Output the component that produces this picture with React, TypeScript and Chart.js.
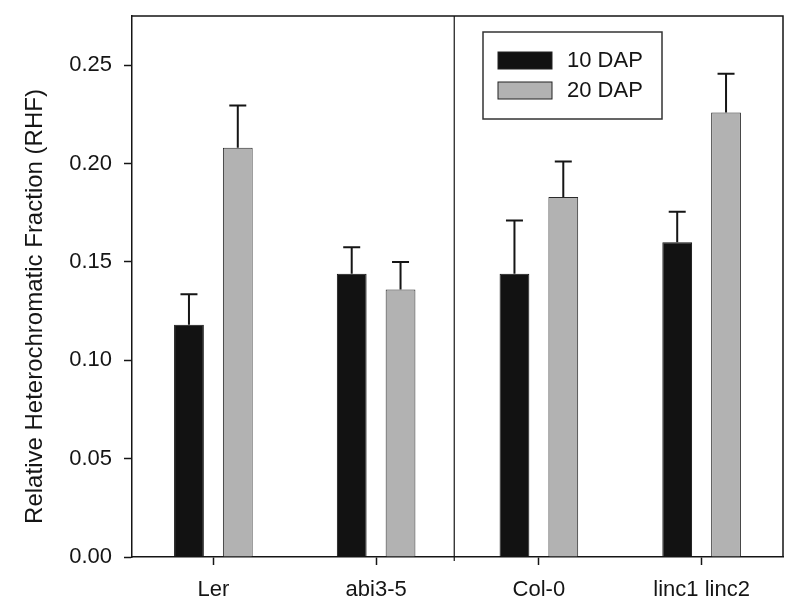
import React, { useEffect, useRef } from "react";
import { Chart, registerables } from "chart.js";

Chart.register(...registerables);

const categories = ["Ler", "abi3-5", "Col-0", "linc1 linc2"];
const seriesLabels = ["10 DAP", "20 DAP"];
const dap10 = [0.118, 0.144, 0.144, 0.16];
const dap20 = [0.208, 0.136, 0.183, 0.226];
const err10 = [0.0155, 0.0135, 0.027, 0.0155];
const err20 = [0.0215, 0.014, 0.018, 0.0197];
const yTickValues = [0, 0.05, 0.1, 0.15, 0.2, 0.25];
const yMax = 0.275;
const yTitle = "Relative Heterochromatic Fraction (RHF)";

const FONT = "'Liberation Sans', Arial, Helvetica, sans-serif";
const INK = "#151515";
const BLACK_FILL = "#121212";
const GRAY_FILL = "#b2b2b2";

const errors = [err10, err20];

const framePlugin = {
  id: "frameDivider",
  afterDatasetsDraw(chart: any) {
    const { ctx, chartArea, scales } = chart;
    ctx.save();
    ctx.strokeStyle = INK;
    ctx.lineWidth = 1.5;
    ctx.beginPath();
    ctx.moveTo(chartArea.left, chartArea.top);
    ctx.lineTo(chartArea.right, chartArea.top);
    ctx.lineTo(chartArea.right, chartArea.bottom);
    ctx.stroke();
    const xd = scales.x.getPixelForValue(1.48);
    ctx.lineWidth = 1.2;
    ctx.beginPath();
    ctx.moveTo(xd, chartArea.top);
    ctx.lineTo(xd, chartArea.bottom + 4);
    ctx.stroke();
    ctx.restore();
  },
};

const errorBarPlugin = {
  id: "errorBars",
  afterDatasetsDraw(chart: any) {
    const { ctx, scales } = chart;
    ctx.save();
    ctx.strokeStyle = INK;
    ctx.lineWidth = 2;
    chart.data.datasets.forEach((ds: any, i: number) => {
      const meta = chart.getDatasetMeta(i);
      meta.data.forEach((bar: any, j: number) => {
        const v = ds.data[j];
        const e = errors[i][j];
        const yTop = scales.y.getPixelForValue(v + e);
        const cap = 8.5;
        ctx.beginPath();
        ctx.moveTo(bar.x, bar.y);
        ctx.lineTo(bar.x, yTop);
        ctx.moveTo(bar.x - cap, yTop);
        ctx.lineTo(bar.x + cap, yTop);
        ctx.stroke();
      });
    });
    ctx.restore();
  },
};

const titlePlugin = {
  id: "yTitle",
  afterDraw(chart: any) {
    const { ctx, chartArea } = chart;
    ctx.save();
    ctx.translate(35, (chartArea.top + chartArea.bottom) / 2 + 20);
    ctx.rotate(-Math.PI / 2);
    ctx.font = `24px ${FONT}`;
    ctx.fillStyle = INK;
    ctx.textAlign = "center";
    ctx.textBaseline = "middle";
    ctx.fillText(yTitle, 0, 0);
    ctx.restore();
  },
};

const legendPlugin = {
  id: "boxLegend",
  afterDraw(chart: any) {
    const { ctx, chartArea } = chart;
    const left = chartArea.left + 351;
    const top = chartArea.top + 16;
    const w = 179;
    const h = 87;
    ctx.save();
    ctx.fillStyle = "#ffffff";
    ctx.fillRect(left, top, w, h);
    ctx.strokeStyle = "#333";
    ctx.lineWidth = 1.5;
    ctx.strokeRect(left, top, w, h);
    const fills = [BLACK_FILL, GRAY_FILL];
    ctx.font = `22px ${FONT}`;
    ctx.textBaseline = "middle";
    ctx.textAlign = "left";
    chart.data.datasets.forEach((ds: any, i: number) => {
      const sy = top + 20 + i * 30;
      ctx.fillStyle = fills[i];
      ctx.fillRect(left + 15, sy, 54, 17);
      ctx.strokeStyle = "#222";
      ctx.lineWidth = 1;
      ctx.strokeRect(left + 15, sy, 54, 17);
      ctx.fillStyle = INK;
      ctx.fillText(ds.label, left + 84, sy + 9);
    });
    ctx.restore();
  },
};

export default function App() {
  const ref = useRef<HTMLCanvasElement | null>(null);

  useEffect(() => {
    if (!ref.current) return;
    const chart = new Chart(ref.current, {
      type: "bar",
      data: {
        labels: categories,
        datasets: [
          {
            label: seriesLabels[0],
            data: dap10,
            backgroundColor: BLACK_FILL,
            borderColor: "#111",
            borderWidth: 1,
          },
          {
            label: seriesLabels[1],
            data: dap20,
            backgroundColor: GRAY_FILL,
            borderColor: "#2a2a2a",
            borderWidth: 1,
          },
        ],
      },
      plugins: [framePlugin, errorBarPlugin, legendPlugin, titlePlugin],
      options: {
        responsive: false,
        animation: false,
        layout: { padding: { left: 0, right: 15, top: 16, bottom: 0 } },
        datasets: {
          bar: { categoryPercentage: 0.6, barPercentage: 0.61 },
        },
        plugins: {
          legend: { display: false },
          tooltip: { enabled: false },
        },
        scales: {
          x: {
            offset: true,
            grid: {
              offset: false,
              drawOnChartArea: false,
              drawTicks: true,
              tickLength: 8,
              tickWidth: 1.5,
              tickColor: INK,
            },
            border: { display: true, color: INK, width: 1.5 },
            ticks: {
              color: INK,
              font: { family: FONT, size: 22 },
              padding: 12,
              maxRotation: 0,
              autoSkip: false,
            },
            afterFit(scale: any) {
              scale.height = 58;
              scale.paddingLeft = 0;
              scale.paddingRight = 0;
            },
          },
          y: {
            min: 0,
            max: yMax,
            grid: {
              drawOnChartArea: false,
              drawTicks: true,
              tickLength: 8,
              tickWidth: 1.5,
              tickColor: INK,
            },
            border: { display: true, color: INK, width: 1.5 },
            afterBuildTicks(scale: any) {
              scale.ticks = yTickValues.map((v) => ({ value: v }));
            },
            ticks: {
              color: INK,
              font: { family: FONT, size: 22 },
              padding: 12,
              callback: (v: any) => Number(v).toFixed(2),
            },
            afterFit(scale: any) {
              scale.width = 132;
              scale.paddingTop = 0;
              scale.paddingBottom = 0;
            },
          },
        },
      } as any,
    });
    return () => chart.destroy();
  }, []);

  return (
    <div style={{ position: "absolute", left: 0, top: 0, width: 798, height: 615, background: "#fff" }}>
      <canvas ref={ref} width={798} height={615} style={{ display: "block" }} />
    </div>
  );
}
